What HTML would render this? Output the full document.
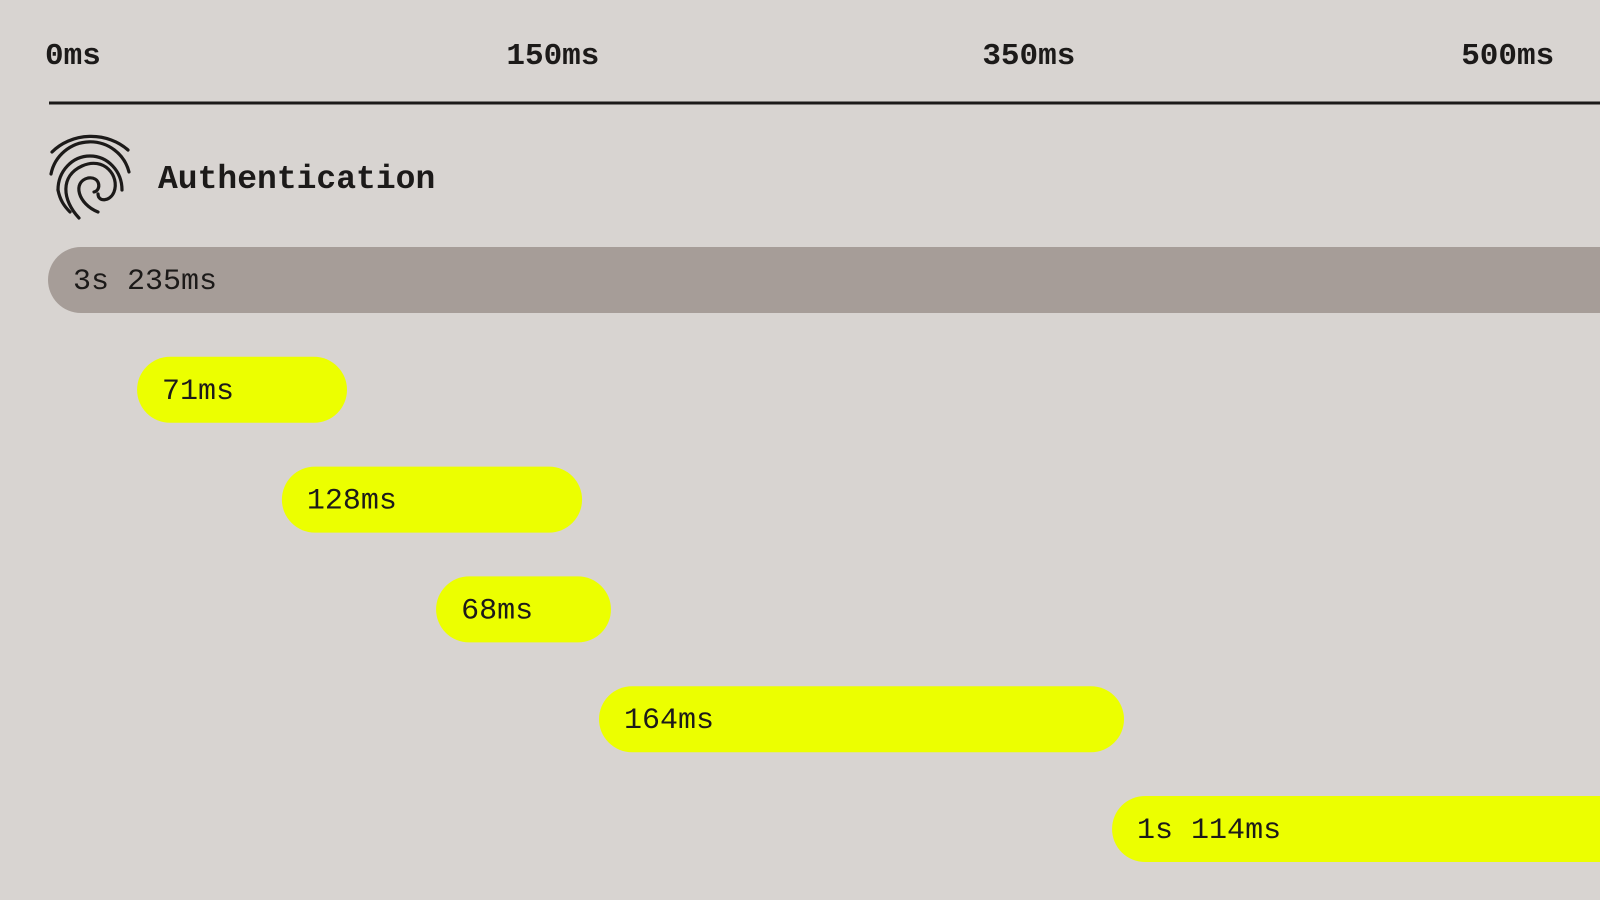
<!DOCTYPE html>
<html><head><meta charset="utf-8"><style>
html,body{margin:0;padding:0;}
body{width:1600px;height:900px;background:#d8d4d1;overflow:hidden;font-family:"Liberation Mono",monospace;color:#1c1a19;}
svg{display:block}
</style></head><body>
<svg id="chart" width="1600" height="900">
<g fill="none" stroke="#1c1a19" stroke-width="3.2" stroke-linecap="round">
<path d="M52 152 A52 46 0 0 1 128 150"/>
<path d="M51 174 A40 40 0 0 1 129 172"/>
<path d="M58 190 A32 34 0 0 1 122 190"/>
<path d="M79 218 C62 200 60 176 82 166 C104 156 120 176 114 192 C110 202 98 202 98 194"/>
<path d="M98 212 C78 204 72 182 88 178 C100 176 102 190 94 192"/>
<path d="M58 190 C60 200 64 206 70 212"/>
</g>
<text x="158" y="188" font-size="33" font-weight="bold" fill="#1c1a19" font-family="Liberation Mono, monospace">Authentication</text>
<line x1="49" y1="103" x2="1600" y2="103" stroke="#1c1a19" stroke-width="3"/>
<g id="ticks"></g>
<g id="bars"></g>
</svg>
<script>
const tickValues = [0, 158, 321, 485];
const tickLabels = ["0ms", "150ms", "350ms", "500ms"];
const barStarts = [0, 30.5, 80.1, 132.9, 188.7, 364.4];
const barEnds = [560, 102.4, 182.9, 192.8, 368.5, 560];
const barLabels = ["3s 235ms", "71ms", "128ms", "68ms", "164ms", "1s 114ms"];

const x = v => 49 + v * 2.92;
const rowY = i => 247 + i * 109.8;
const NS = "http://www.w3.org/2000/svg";
const tg = document.getElementById("ticks");
tickValues.forEach((v, i) => {
  const t = document.createElementNS(NS, "text");
  t.setAttribute("x", x(v) - 4);
  t.setAttribute("y", 64);
  t.setAttribute("font-size", "31");
  t.setAttribute("font-weight", "bold");
  t.setAttribute("fill", "#1c1a19");
  t.textContent = tickLabels[i];
  
  
  tg.appendChild(t);
});
const bg = document.getElementById("bars");
barStarts.forEach((s, i) => {
  const y = rowY(i);
  const r = document.createElementNS(NS, "rect");
  r.setAttribute("x", x(s) - 1);
  r.setAttribute("y", y);
  r.setAttribute("width", x(barEnds[i]) - x(s));
  r.setAttribute("height", 66);
  r.setAttribute("rx", 33);
  r.setAttribute("fill", i === 0 ? "#a69d98" : "#ecff00");
  
  
  bg.appendChild(r);
  const t = document.createElementNS(NS, "text");
  t.setAttribute("x", x(s) + 24);
  t.setAttribute("y", y + 42);
  t.setAttribute("font-size", "30");
  t.setAttribute("fill", "#1c1a19");
  t.textContent = barLabels[i];
  
  
  bg.appendChild(t);
});
</script>
</body></html>
